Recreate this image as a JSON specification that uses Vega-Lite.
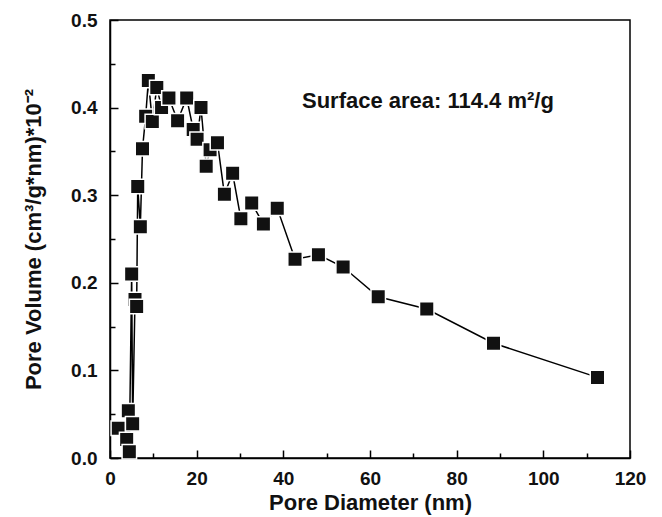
{
  "$schema": "https://vega.github.io/schema/vega-lite/v6.json",
  "width": 520,
  "height": 438,
  "autosize": "none",
  "padding": {"left": 110, "top": 20, "right": 32, "bottom": 59},
  "background": "white",
  "config": {
    "view": {"stroke": "#000", "strokeWidth": 1.5},
    "font": "Liberation Sans",
    "axis": {
      "domainColor": "#000", "domainWidth": 1.5, "tickColor": "#000", "tickWidth": 1.5,
      "grid": false, "labelFont": "Liberation Sans", "labelFontWeight": "bold", "labelFontSize": 19,
      "labelColor": "#111", "titleFont": "Liberation Sans", "titleFontWeight": "bold", "titleFontSize": 22, "titleColor": "#111"
    }
  },
  "data": {"values": [
    {"d": 1.92, "v": 0.034}, {"d": 3.85, "v": 0.021}, {"d": 4.23, "v": 0.054}, {"d": 4.46, "v": 0.007},
    {"d": 5.0, "v": 0.21}, {"d": 5.23, "v": 0.039}, {"d": 5.77, "v": 0.181}, {"d": 6.15, "v": 0.173},
    {"d": 6.4, "v": 0.31}, {"d": 7.0, "v": 0.264}, {"d": 7.5, "v": 0.353}, {"d": 8.23, "v": 0.39},
    {"d": 8.85, "v": 0.431}, {"d": 9.77, "v": 0.384}, {"d": 10.8, "v": 0.423}, {"d": 11.9, "v": 0.4},
    {"d": 13.6, "v": 0.411}, {"d": 15.6, "v": 0.385}, {"d": 17.7, "v": 0.411}, {"d": 19.2, "v": 0.375},
    {"d": 20.1, "v": 0.364}, {"d": 21.0, "v": 0.4}, {"d": 22.2, "v": 0.333}, {"d": 23.1, "v": 0.352},
    {"d": 24.8, "v": 0.36}, {"d": 26.4, "v": 0.301}, {"d": 28.3, "v": 0.325}, {"d": 30.2, "v": 0.273},
    {"d": 32.7, "v": 0.291}, {"d": 35.4, "v": 0.267}, {"d": 38.6, "v": 0.285}, {"d": 42.7, "v": 0.227},
    {"d": 48.1, "v": 0.232}, {"d": 53.8, "v": 0.218}, {"d": 61.9, "v": 0.184}, {"d": 73.1, "v": 0.17},
    {"d": 88.5, "v": 0.131}, {"d": 112.5, "v": 0.092}
  ]},
  "resolve": {"axis": {"x": "independent", "y": "independent"}},
  "layer": [
    {
      "mark": {"type": "line", "color": "#000", "strokeWidth": 1.5},
      "encoding": {
        "x": {"field": "d", "type": "quantitative", "scale": {"domain": [0, 120], "nice": false},
          "axis": {"orient": "bottom", "values": [0, 20, 40, 60, 80, 100, 120], "tickSize": -8, "labelPadding": 19, "title": "Pore Diameter (nm)", "titlePadding": 4, "labelFlush": false}},
        "y": {"field": "v", "type": "quantitative", "scale": {"domain": [0, 0.5], "nice": false},
          "axis": {"orient": "left", "values": [0, 0.1, 0.2, 0.3, 0.4, 0.5], "format": ".1f", "tickSize": -8, "labelPadding": 21, "title": "Pore Volume (cm³/g*nm)*10⁻²", "titlePadding": 25, "labelFlush": false}}
      }
    },
    {
      "mark": {"type": "point", "shape": "square", "filled": true, "size": 210, "color": "#111", "stroke": "white", "strokeWidth": 1.5, "opacity": 1},
      "encoding": {
        "x": {"field": "d", "type": "quantitative", "scale": {"domain": [0, 120], "nice": false},
          "axis": {"orient": "bottom", "values": [10, 30, 50, 70, 90, 110], "tickSize": -5, "labels": false, "domain": false, "title": null}},
        "y": {"field": "v", "type": "quantitative", "scale": {"domain": [0, 0.5], "nice": false},
          "axis": {"orient": "left", "values": [0.05, 0.15, 0.25, 0.35, 0.45], "tickSize": -5, "labels": false, "domain": false, "title": null}}
      }
    },
    {
      "data": {"values": [{"d": 44.3, "v": 0.408, "label": "Surface area: 114.4 m²/g"}]},
      "mark": {"type": "text", "align": "left", "baseline": "middle", "fontSize": 22, "fontWeight": "bold", "color": "#111", "font": "Liberation Sans"},
      "encoding": {
        "x": {"field": "d", "type": "quantitative", "scale": {"domain": [0, 120], "nice": false}, "axis": null},
        "y": {"field": "v", "type": "quantitative", "scale": {"domain": [0, 0.5], "nice": false}, "axis": null},
        "text": {"field": "label"}
      }
    }
  ]
}
